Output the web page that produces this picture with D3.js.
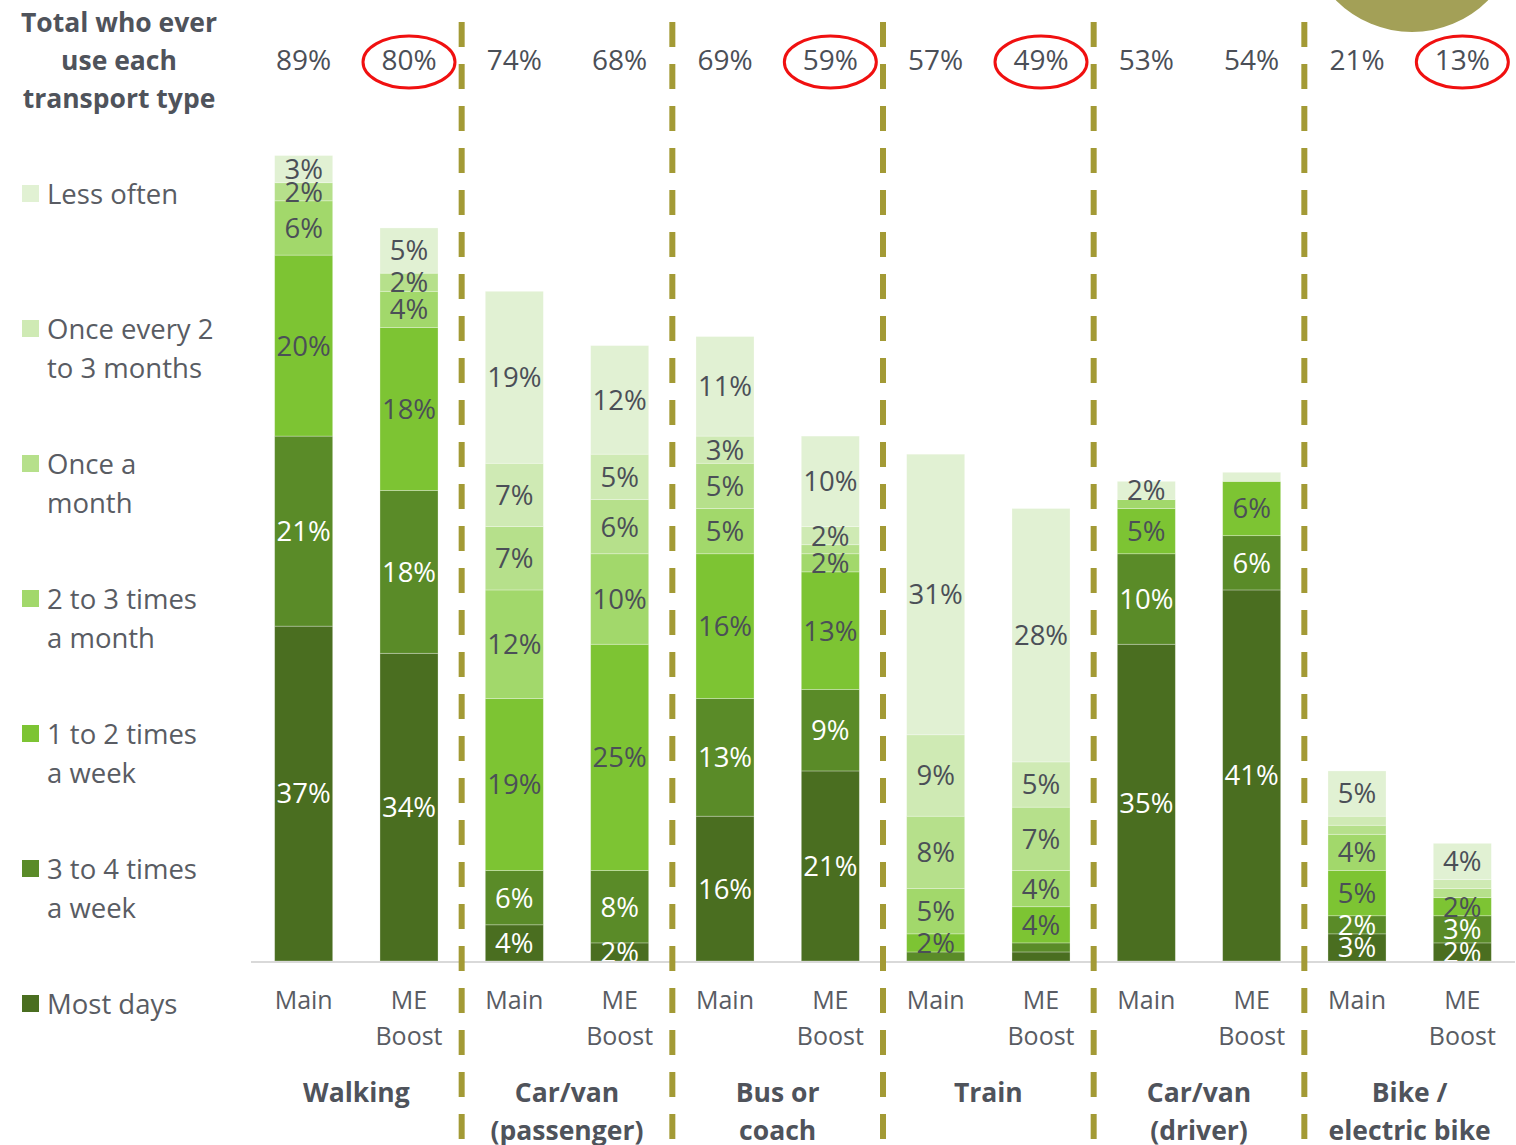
<!DOCTYPE html>
<html>
<head>
<meta charset="utf-8">
<script src="https://cdn.jsdelivr.net/npm/d3@7"></script>
<style>
  html, body { margin: 0; padding: 0; background: #ffffff; }
  svg { display: block; }
  text { font-family: "Open Sans", "Noto Sans", sans-serif; }
</style>
</head>
<body>
<svg id="chart" width="1516" height="1145"></svg>
<script>
// Bars, left to right: each transport type has a Main and an ME Boost bar
const bars = ["Walking|Main", "Walking|ME Boost", "Passenger|Main", "Passenger|ME Boost",
              "Bus|Main", "Bus|ME Boost", "Train|Main", "Train|ME Boost",
              "Driver|Main", "Driver|ME Boost", "Bike|Main", "Bike|ME Boost"];
const barLabels = [["Main"], ["ME", "Boost"], ["Main"], ["ME", "Boost"], ["Main"], ["ME", "Boost"],
                   ["Main"], ["ME", "Boost"], ["Main"], ["ME", "Boost"], ["Main"], ["ME", "Boost"]];
const groupLabels = [["Walking"], ["Car/van", "(passenger)"], ["Bus or", "coach"],
                     ["Train"], ["Car/van", "(driver)"], ["Bike /", "electric bike"]];

// Frequency of use (% of respondents), one array per frequency band
const mostDays           = [37, 34,  4,  2, 16, 21,  0,  1, 35, 41,  3,  2];
const threeFourWeek      = [21, 18,  6,  8, 13,  9,  1,  1, 10,  6,  2,  3];
const oneTwoWeek         = [20, 18, 19, 25, 16, 13,  2,  4,  5,  6,  5,  2];
const twoThreeMonth      = [ 6,  4, 12, 10,  5,  2,  5,  4,  1,  0,  4,  0];
const onceMonth          = [ 2,  2,  7,  6,  5,  1,  8,  7,  0,  0,  1,  1];
const onceTwoThreeMonths = [ 0,  0,  7,  5,  3,  2,  9,  5,  0,  0,  1,  1];
const lessOften          = [ 3,  5, 19, 12, 11, 10, 31, 28,  2,  1,  5,  4];

// Total who ever use each transport type
const totals = [89, 80, 74, 68, 69, 59, 57, 49, 53, 54, 21, 13];
const circled = [false, true, false, false, false, true, false, true, false, false, false, true];

const seriesKeys = ["mostDays", "threeFourWeek", "oneTwoWeek", "twoThreeMonth",
                    "onceMonth", "onceTwoThreeMonths", "lessOften"];
const seriesNames = {
  lessOften: ["Less often"],
  onceTwoThreeMonths: ["Once every 2", "to 3 months"],
  onceMonth: ["Once a", "month"],
  twoThreeMonth: ["2 to 3 times", "a month"],
  oneTwoWeek: ["1 to 2 times", "a week"],
  threeFourWeek: ["3 to 4 times", "a week"],
  mostDays: ["Most days"]
};
const seriesColors = {
  mostDays: "#4a6e20",
  threeFourWeek: "#5a8b28",
  oneTwoWeek: "#7dc433",
  twoThreeMonth: "#a2d86b",
  onceMonth: "#b6e08b",
  onceTwoThreeMonths: "#cfeab4",
  lessOften: "#e1f1d3"
};
const darkSeries = new Set(["mostDays", "threeFourWeek"]);

const table = bars.map((b, i) => ({
  bar: b,
  mostDays: mostDays[i], threeFourWeek: threeFourWeek[i], oneTwoWeek: oneTwoWeek[i],
  twoThreeMonth: twoThreeMonth[i], onceMonth: onceMonth[i],
  onceTwoThreeMonths: onceTwoThreeMonths[i], lessOften: lessOften[i]
}));

const textColor = "#4b4f57";
const svg = d3.select("#chart");

const x = d3.scaleBand().domain(bars).range([251, 1515]).paddingInner(0.449).paddingOuter(0.2245);
const y = d3.scaleLinear().domain([0, 100]).range([961, 56]);

const stacked = d3.stack().keys(seriesKeys)(table);

// Decorative disc in the top-right corner
svg.append("circle").attr("cx", 1412).attr("cy", -75).attr("r", 107).attr("fill", "#a3a057");

// Clip for the plot area so labels do not spill below the baseline
svg.append("defs").append("clipPath").attr("id", "plotClip")
  .append("rect").attr("x", 240).attr("y", 0).attr("width", 1290).attr("height", y(0));

const plot = svg.append("g").attr("clip-path", "url(#plotClip)");

const layer = plot.selectAll("g.layer").data(stacked).join("g").attr("class", "layer")
  .attr("fill", d => seriesColors[d.key]);

layer.selectAll("rect").data(d => d).join("rect")
  .attr("x", d => x(d.data.bar))
  .attr("width", x.bandwidth())
  .attr("y", d => y(d[1]))
  .attr("height", d => y(d[0]) - y(d[1]))
  .attr("stroke", "rgba(255,255,255,0.35)")
  .attr("stroke-width", 0.8);

// Segment value labels
stacked.forEach(s => {
  plot.append("g").selectAll("text").data(s.filter(d => d[1] - d[0] >= 2)).join("text")
    .attr("x", d => x(d.data.bar) + x.bandwidth() / 2)
    .attr("y", d => (y(d[0]) + y(d[1])) / 2)
    .attr("dy", "0.36em")
    .attr("text-anchor", "middle")
    .attr("font-size", 27.5)
    .attr("fill", darkSeries.has(s.key) ? "#ffffff" : textColor)
    .text(d => (d[1] - d[0]) + "%");
});

// Baseline
svg.append("line").attr("x1", 251).attr("x2", 1515).attr("y1", y(0) + 1).attr("y2", y(0) + 1)
  .attr("stroke", "#d9d9d9").attr("stroke-width", 2);

// Group dividers
const dividerX = [2, 4, 6, 8, 10].map(i => x(bars[i]) - x.step() * x.paddingInner() / 2);
svg.selectAll("line.divider").data(dividerX).join("line").attr("class", "divider")
  .attr("x1", d => d).attr("x2", d => d).attr("y1", 22).attr("y2", 1145)
  .attr("stroke", "#a39a35").attr("stroke-width", 6).attr("stroke-dasharray", "25 17");

// Totals row along the top
svg.selectAll("text.total").data(totals).join("text").attr("class", "total")
  .attr("x", (d, i) => x(bars[i]) + x.bandwidth() / 2)
  .attr("y", 60).attr("dy", "0.36em")
  .attr("text-anchor", "middle").attr("font-size", 28).attr("fill", textColor)
  .text(d => d + "%");

svg.selectAll("ellipse.mark").data(bars.filter((b, i) => circled[i])).join("ellipse")
  .attr("class", "mark")
  .attr("cx", d => x(d) + x.bandwidth() / 2).attr("cy", 62)
  .attr("rx", 46).attr("ry", 26)
  .attr("fill", "none").attr("stroke", "#f01010").attr("stroke-width", 3);

// Bar labels under the baseline
barLabels.forEach((lines, i) => {
  lines.forEach((t, j) => {
    svg.append("text")
      .attr("x", x(bars[i]) + x.bandwidth() / 2)
      .attr("y", 1000 + j * 36).attr("dy", "0.36em")
      .attr("text-anchor", "middle").attr("font-size", 25).attr("fill", "#595c63")
      .text(t);
  });
});

// Transport type labels
groupLabels.forEach((lines, g) => {
  const cx = (x(bars[2 * g]) + x(bars[2 * g + 1]) + x.bandwidth()) / 2;
  lines.forEach((t, j) => {
    svg.append("text")
      .attr("x", cx).attr("y", 1092 + j * 38).attr("dy", "0.36em")
      .attr("text-anchor", "middle").attr("font-size", 26.5).attr("font-weight", 700)
      .attr("fill", "#4f535b").text(t);
  });
});

// Title in the left column
["Total who ever", "use each", "transport type"].forEach((t, j) => {
  svg.append("text").attr("x", 119).attr("y", 22 + j * 38).attr("dy", "0.36em")
    .attr("text-anchor", "middle").attr("font-size", 26.5).attr("font-weight", 700)
    .attr("fill", "#4f535b").text(t);
});

// Legend
const legendOrder = ["lessOften", "onceTwoThreeMonths", "onceMonth", "twoThreeMonth",
                     "oneTwoWeek", "threeFourWeek", "mostDays"];
legendOrder.forEach((k, i) => {
  const cy = 194 + i * 135;
  svg.append("rect").attr("x", 22).attr("y", cy - 9).attr("width", 17).attr("height", 17)
    .attr("fill", seriesColors[k]);
  seriesNames[k].forEach((t, j) => {
    svg.append("text").attr("x", 47).attr("y", cy + j * 39).attr("dy", "0.36em")
      .attr("font-size", 27.5).attr("fill", "#595c63").text(t);
  });
});
</script>
</body>
</html>
